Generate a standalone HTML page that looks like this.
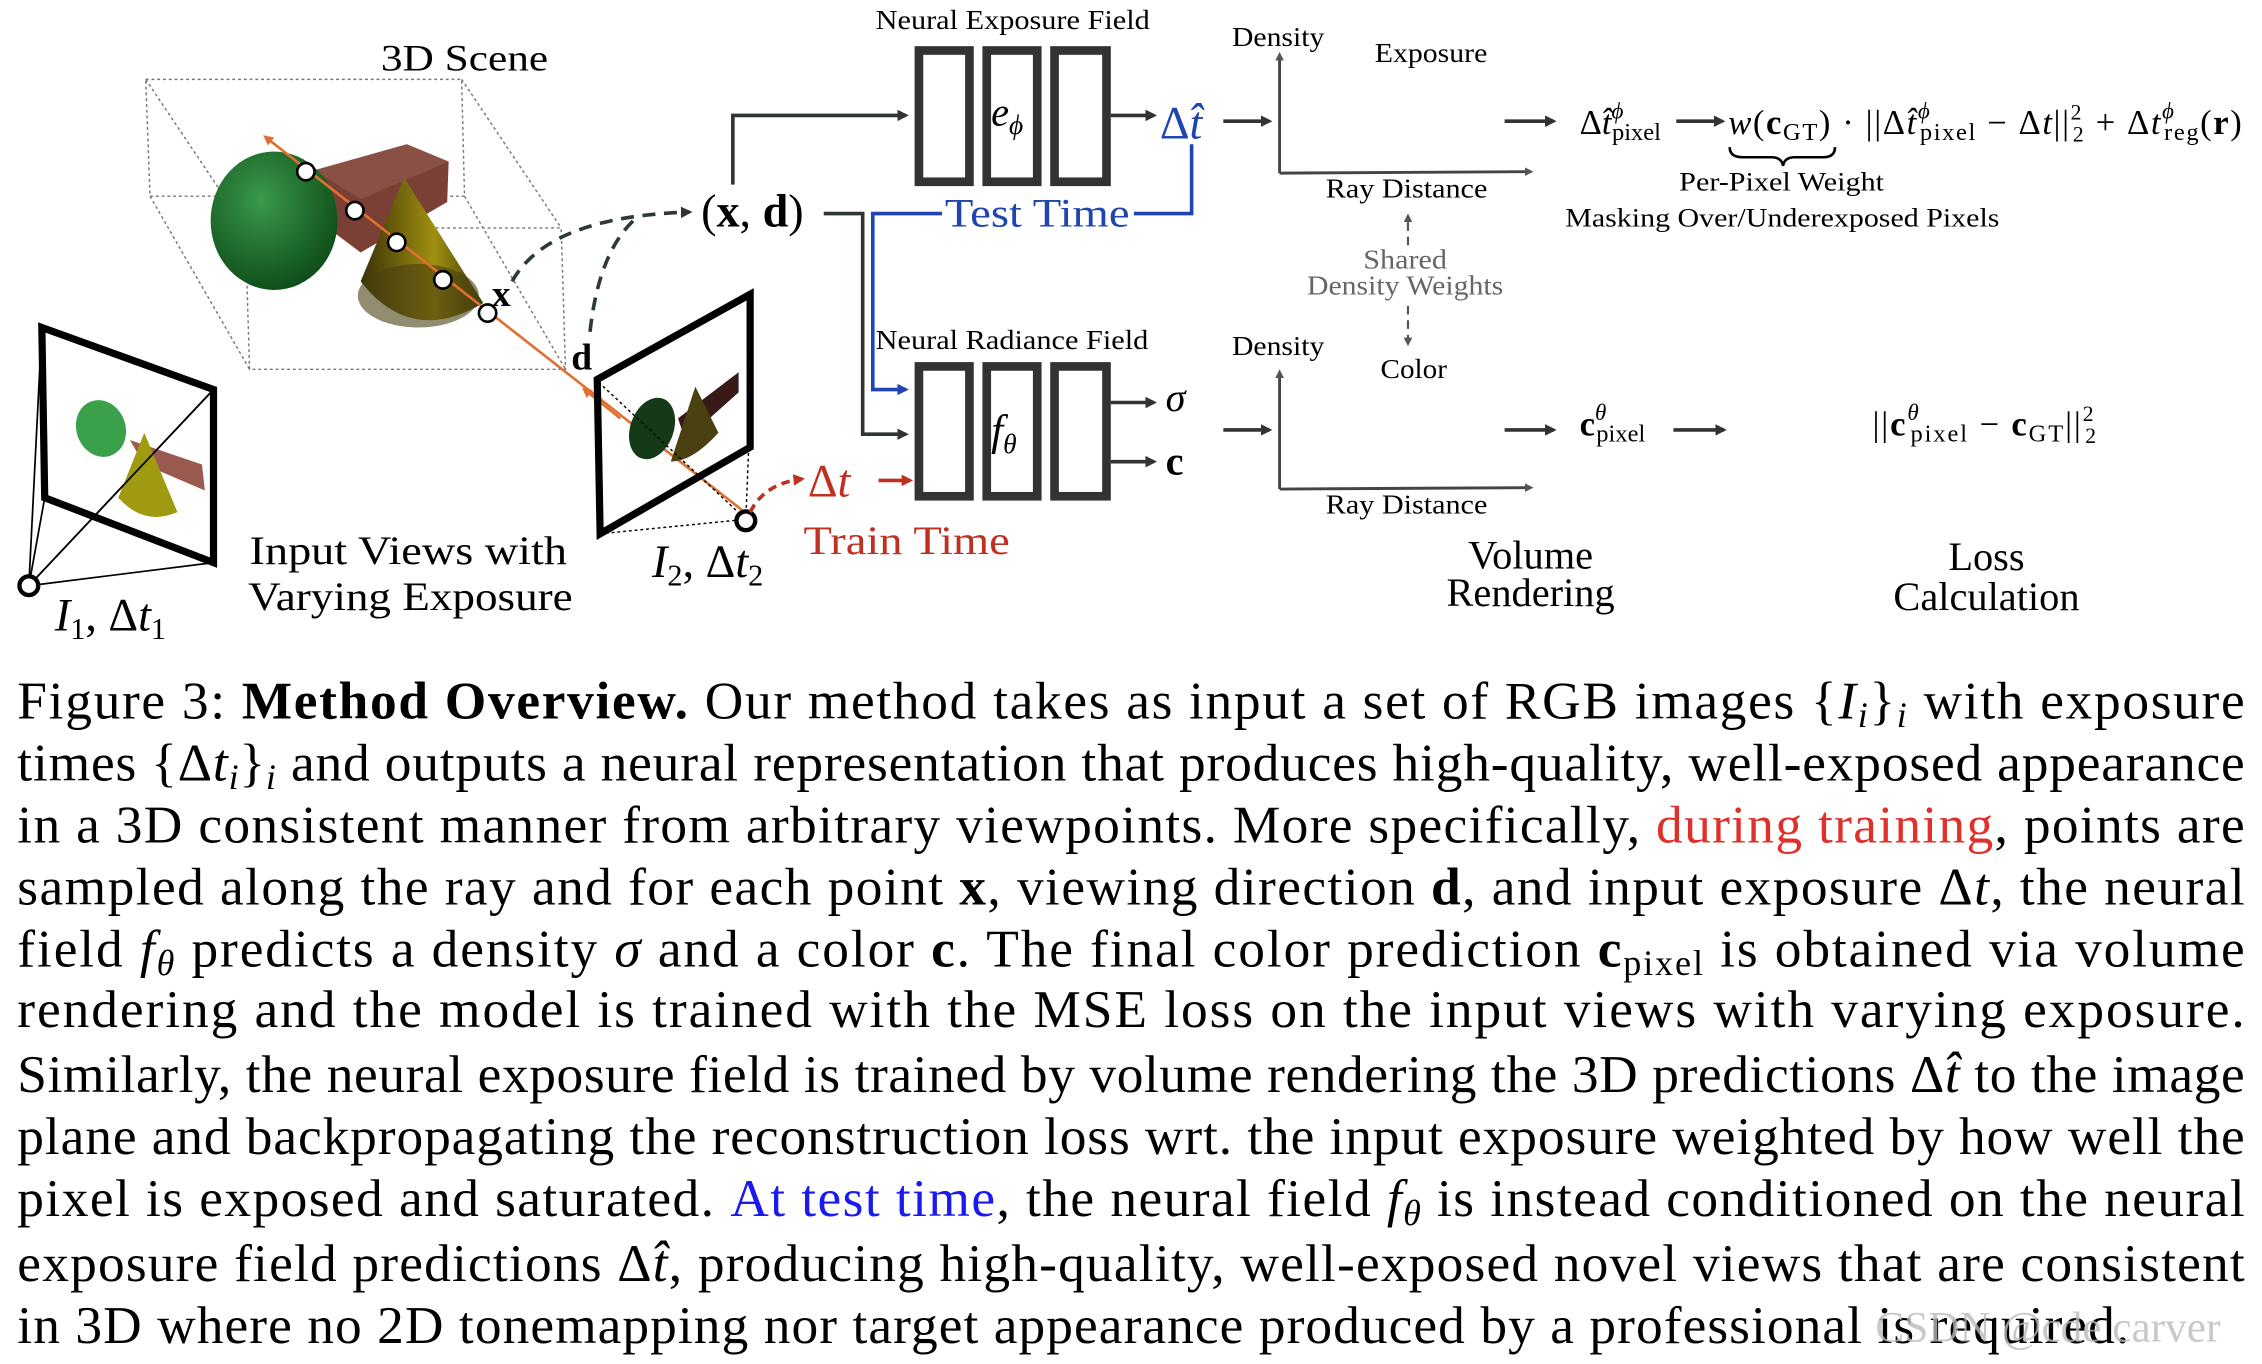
<!DOCTYPE html>
<html><head><meta charset="utf-8"><style>
html,body{margin:0;padding:0;background:#fff;}
svg{display:block;}
text{font-family:"Liberation Serif","DejaVu Serif",serif;}
</style></head><body>
<svg width="2262" height="1364" viewBox="0 0 1568 945.5" xmlns="http://www.w3.org/2000/svg">
<defs>
<marker id="ab" markerWidth="8" markerHeight="8" refX="6" refY="4" orient="auto" markerUnits="userSpaceOnUse"><path d="M0,0 L8,4 L0,8 z" fill="#333"/></marker>
<marker id="abl" markerWidth="8" markerHeight="8" refX="6" refY="4" orient="auto" markerUnits="userSpaceOnUse"><path d="M0,0 L8,4 L0,8 z" fill="#1f45b0"/></marker>
<marker id="ar" markerWidth="8" markerHeight="8" refX="6" refY="4" orient="auto" markerUnits="userSpaceOnUse"><path d="M0,0 L8,4 L0,8 z" fill="#c03020"/></marker>
<marker id="ao" markerWidth="7" markerHeight="7" refX="5" refY="3.5" orient="auto" markerUnits="userSpaceOnUse"><path d="M0,0 L7,3.5 L0,7 z" fill="#e07030"/></marker>
<marker id="ag" markerWidth="6" markerHeight="6" refX="4" refY="3" orient="auto" markerUnits="userSpaceOnUse"><path d="M0,0 L6,3 L0,6 z" fill="#555"/></marker>
<radialGradient id="gs" cx="0.4" cy="0.35" r="0.7"><stop offset="0" stop-color="#3a9a4a"/><stop offset="1" stop-color="#0d4a18"/></radialGradient>
<linearGradient id="yc" x1="0" y1="0" x2="1" y2="0"><stop offset="0" stop-color="#3a3208"/><stop offset="0.6" stop-color="#a09010"/><stop offset="1" stop-color="#403a08"/></linearGradient>
</defs>

<!-- 3D scene box -->
<g stroke="#777" stroke-width="1" stroke-dasharray="2,2" fill="none">
<path d="M101,55 L320,55 L322,136 L104,136 Z"/>
<path d="M170,158 L389,158 L392,256 L173,256 Z"/>
<path d="M101,55 L170,158 M320,55 L389,158 M322,136 L392,256 M104,136 L173,256"/>
</g>
<text x="264" y="49" font-size="26" textLength="116" lengthAdjust="spacingAndGlyphs">3D Scene</text>
<!-- objects -->
<polygon points="218,118 282,100 311,112 310,140 250,175 230,160" fill="#7a4035"/>
<polygon points="282,100 311,112 250,138 218,118" fill="#8a5045"/>
<ellipse cx="190" cy="153" rx="44" ry="48" fill="url(#gs)"/>
<path d="M280,123 L250,195 Q285,240 335,210 Z" fill="url(#yc)"/>
<ellipse cx="290" cy="205" rx="42" ry="22" fill="#4a4010" opacity="0.6"/>
<line x1="520" y1="358" x2="184" y2="95" stroke="#e07030" stroke-width="1.8" marker-end="url(#ao)"/>
<line x1="430" y1="290" x2="405" y2="270" stroke="#e07030" stroke-width="1.8" marker-end="url(#ao)"/>
<g fill="#fff" stroke="#000" stroke-width="1.8">
<circle cx="212" cy="119" r="6"/><circle cx="246" cy="146" r="6"/><circle cx="275" cy="168" r="6"/><circle cx="307" cy="194" r="6"/><circle cx="338" cy="217" r="6"/>
</g>
<text x="341" y="212" font-size="26" font-weight="bold">x</text>
<text x="396" y="256" font-size="26" font-weight="bold">d</text>
<path d="M355,195 Q380,150 478,147" stroke="#2d3a38" stroke-width="2.5" stroke-dasharray="9,6" fill="none" marker-end="url(#ab)"/>
<path d="M409,230 Q415,175 440,152" stroke="#2d3a38" stroke-width="2.5" stroke-dasharray="9,6" fill="none"/>

<!-- left image plane -->
<g stroke="#000" stroke-width="1.2" fill="none">
<line x1="20" y1="406" x2="29" y2="227"/><line x1="20" y1="406" x2="31" y2="345"/><line x1="20" y1="406" x2="148" y2="390"/><line x1="20" y1="406" x2="148" y2="270"/>
</g>
<ellipse cx="70" cy="297" rx="17" ry="20" fill="#3aa04a" transform="rotate(-20 70 297)"/>
<polygon points="90,305 140,322 142,340 100,322" fill="#9a5a50"/>
<path d="M100,300 L82,345 Q100,365 123,355 Z" fill="#a09a10"/>
<polygon points="29,227 148,270 148,390 31,345" fill="none" stroke="#000" stroke-width="5"/>
<line x1="20" y1="406" x2="148" y2="270" stroke="#000" stroke-width="1.2"/>
<circle cx="20" cy="406" r="6.5" fill="#fff" stroke="#000" stroke-width="3"/>
<text x="38" y="437" font-size="32" font-style="italic">I<tspan font-size="21" dy="6" font-style="normal">1</tspan><tspan dy="-6" font-style="normal">, Δ</tspan>t<tspan font-size="21" dy="6" font-style="normal">1</tspan></text>
<text x="173" y="391" font-size="28" textLength="220" lengthAdjust="spacingAndGlyphs">Input Views with</text>
<text x="172" y="423" font-size="28" textLength="225" lengthAdjust="spacingAndGlyphs">Varying Exposure</text>

<!-- right image plane -->
<ellipse cx="452" cy="297" rx="15" ry="22" fill="#143a18" transform="rotate(20 452 297)"/>
<polygon points="470,290 512,258 512,272 475,305" fill="#3a1a18"/>
<path d="M482,268 L465,320 Q480,320 498,300 Z" fill="#4a4010"/>
<g stroke="#000" stroke-width="1" stroke-dasharray="2,2" fill="none">
<line x1="416" y1="370" x2="517" y2="360"/><line x1="519" y1="310" x2="517" y2="360"/><line x1="415" y1="265" x2="517" y2="360"/>
</g>
<polygon points="414,263 520,204 520,310 416,370" fill="none" stroke="#000" stroke-width="5"/>
<circle cx="517" cy="361" r="6.5" fill="#fff" stroke="#000" stroke-width="3"/>
<text x="452" y="400" font-size="32" font-style="italic">I<tspan font-size="21" dy="6" font-style="normal">2</tspan><tspan dy="-6" font-style="normal">, Δ</tspan>t<tspan font-size="21" dy="6" font-style="normal">2</tspan></text>

<!-- train time -->
<path d="M520,355 Q530,335 556,332" stroke="#c03020" stroke-width="2.5" stroke-dasharray="6,4" fill="none" marker-end="url(#ar)"/>
<text x="560" y="344" font-size="32" fill="#c03020">Δ<tspan font-style="italic">t</tspan></text>
<line x1="609" y1="333" x2="631" y2="333" stroke="#c03020" stroke-width="2.5" marker-end="url(#ar)"/>
<text x="557" y="384" font-size="28" fill="#c03020" textLength="143" lengthAdjust="spacingAndGlyphs">Train Time</text>

<!-- (x,d) and connectors -->
<text x="486" y="157" font-size="32">(<tspan font-weight="bold">x</tspan>, <tspan font-weight="bold">d</tspan>)</text>
<g stroke="#2d3535" stroke-width="2.5" fill="none">
<path d="M508,128 L508,80 L628,80" marker-end="url(#ab)"/>
<path d="M571,148 L598,148 L598,301 L628,301" marker-end="url(#ab)"/>
</g>
<g stroke="#1f45b0" stroke-width="2.5" fill="none">
<path d="M653,148 L605,148 L605,270 L628,270" marker-end="url(#abl)"/>
<path d="M786,148 L826,148 L826,100"/>
</g>
<text x="655" y="157" font-size="28" fill="#1f45b0" textLength="128" lengthAdjust="spacingAndGlyphs">Test Time</text>

<!-- networks -->
<text x="607" y="20" font-size="19" textLength="190" lengthAdjust="spacingAndGlyphs">Neural Exposure Field</text>
<g fill="none" stroke="#333" stroke-width="6">
<rect x="637" y="35" width="35" height="91"/><rect x="684" y="35" width="35" height="91"/><rect x="731" y="35" width="36" height="91"/>
<rect x="637" y="254" width="35" height="90"/><rect x="684" y="254" width="35" height="90"/><rect x="731" y="254" width="36" height="90"/>
</g>
<text x="687" y="87" font-size="28" font-style="italic">e<tspan font-size="19" dy="6">ϕ</tspan></text>
<text x="687" y="308" font-size="30" font-style="italic">f<tspan font-size="19" dy="6">θ</tspan></text>
<text x="607" y="242" font-size="19" textLength="189" lengthAdjust="spacingAndGlyphs">Neural Radiance Field</text>
<g stroke="#333" stroke-width="2.5" fill="none">
<line x1="770" y1="80" x2="800" y2="80" marker-end="url(#ab)"/>
<line x1="848" y1="84" x2="880" y2="84" marker-end="url(#ab)"/>
<line x1="770" y1="279" x2="800" y2="279" marker-end="url(#ab)"/>
<line x1="770" y1="320" x2="800" y2="320" marker-end="url(#ab)"/>
<line x1="848" y1="298" x2="880" y2="298" marker-end="url(#ab)"/>
<line x1="1043" y1="84" x2="1077" y2="84" marker-end="url(#ab)"/>
<line x1="1043" y1="298" x2="1077" y2="298" marker-end="url(#ab)"/>
<line x1="1160" y1="298" x2="1195" y2="298" marker-end="url(#ab)"/>
<line x1="1162" y1="84" x2="1194" y2="84" marker-end="url(#ab)"/>
</g>
<text x="804" y="96" font-size="32" fill="#1f45b0">Δ<tspan font-style="italic">t̂</tspan></text>
<text x="808" y="285" font-size="28" font-style="italic">σ</text>
<text x="808" y="329" font-size="28" font-weight="bold">c</text>

<!-- plots -->
<g stroke="#444" stroke-width="2" fill="none">
<path d="M887,120 L887,38" marker-end="url(#ag)"/><path d="M887,120 L1061,119" marker-end="url(#ag)"/>
<path d="M887,339 L887,258" marker-end="url(#ag)"/><path d="M887,339 L1061,338" marker-end="url(#ag)"/>
</g>
<g font-size="19">
<text x="854" y="32" textLength="64" lengthAdjust="spacingAndGlyphs">Density</text><text x="953" y="43" textLength="78" lengthAdjust="spacingAndGlyphs">Exposure</text><text x="919" y="137" textLength="112" lengthAdjust="spacingAndGlyphs">Ray Distance</text>
<text x="854" y="246" textLength="64" lengthAdjust="spacingAndGlyphs">Density</text><text x="957" y="262" textLength="46" lengthAdjust="spacingAndGlyphs">Color</text><text x="919" y="356" textLength="112" lengthAdjust="spacingAndGlyphs">Ray Distance</text>
</g>
<g stroke="#555" stroke-width="1.5" stroke-dasharray="6,4" fill="none">
<path d="M976,170 L976,150" marker-end="url(#ag)"/><path d="M976,212 L976,238" marker-end="url(#ag)"/>
</g>
<text x="945" y="186" font-size="19" fill="#666" textLength="58" lengthAdjust="spacingAndGlyphs">Shared</text>
<text x="906" y="204" font-size="19" fill="#666" textLength="136" lengthAdjust="spacingAndGlyphs">Density Weights</text>

<!-- loss formulas -->
<text x="1095" y="93" font-size="24">Δ<tspan font-style="italic">t̂</tspan><tspan font-size="16" dy="-11" font-style="italic">ϕ</tspan><tspan font-size="17" dx="-8" dy="15">pixel</tspan></text>
<text x="1198" y="93" font-size="24" textLength="356" lengthAdjust="spacing"><tspan font-style="italic">w</tspan>(<tspan font-weight="bold">c</tspan><tspan font-size="17" dy="4">GT</tspan><tspan dy="-4">) · ||Δ</tspan><tspan font-style="italic">t̂</tspan><tspan font-size="16" dy="-11" font-style="italic">ϕ</tspan><tspan font-size="17" dx="-8" dy="15">pixel</tspan><tspan dy="-4"> − Δ</tspan><tspan font-style="italic">t</tspan>||<tspan font-size="15" dy="-10">2</tspan><tspan font-size="15" dx="-7" dy="15">2</tspan><tspan dy="-5"> + Δ</tspan><tspan font-style="italic">t</tspan><tspan font-size="16" dy="-11" font-style="italic">ϕ</tspan><tspan font-size="17" dx="-8" dy="15">reg</tspan><tspan dy="-4">(</tspan><tspan font-weight="bold">r</tspan>)</text>
<path d="M1199,102 Q1199,109 1208,109 L1228,109 Q1235,109 1236,115 Q1237,109 1244,109 L1264,109 Q1272,109 1272,102" stroke="#000" stroke-width="1.8" fill="none"/>
<text x="1164" y="132" font-size="18" textLength="142" lengthAdjust="spacingAndGlyphs">Per-Pixel Weight</text>
<text x="1085" y="157" font-size="18" textLength="301" lengthAdjust="spacingAndGlyphs">Masking Over/Underexposed Pixels</text>
<text x="1095" y="302" font-size="24"><tspan font-weight="bold">c</tspan><tspan font-size="16" dy="-11" font-style="italic">θ</tspan><tspan font-size="17" dx="-7" dy="15">pixel</tspan></text>
<text x="1298" y="302" font-size="24" textLength="155" lengthAdjust="spacing">||<tspan font-weight="bold">c</tspan><tspan font-size="16" dy="-11" font-style="italic">θ</tspan><tspan font-size="17" dx="-7" dy="15">pixel</tspan><tspan dy="-4"> − </tspan><tspan font-weight="bold">c</tspan><tspan font-size="17" dy="4">GT</tspan><tspan dy="-4">||</tspan><tspan font-size="15" dy="-10">2</tspan><tspan font-size="15" dx="-7" dy="15">2</tspan></text>
<g font-size="28" text-anchor="middle">
<text x="1061" y="394">Volume</text><text x="1061" y="420">Rendering</text>
<text x="1377" y="395">Loss</text><text x="1377" y="423">Calculation</text>
</g>

<!-- caption -->
<g font-size="37">
<text x="12" y="498" textLength="1544" lengthAdjust="spacing">Figure 3: <tspan font-weight="bold">Method Overview.</tspan> Our method takes as input a set of RGB images {<tspan font-style="italic">I</tspan><tspan font-size="25" font-style="italic" dy="6">i</tspan><tspan dy="-6">}</tspan><tspan font-size="25" font-style="italic" dy="6">i</tspan><tspan dy="-6"> with exposure</tspan></text>
<text x="12" y="541" textLength="1544" lengthAdjust="spacing">times {Δ<tspan font-style="italic">t</tspan><tspan font-size="25" font-style="italic" dy="6">i</tspan><tspan dy="-6">}</tspan><tspan font-size="25" font-style="italic" dy="6">i</tspan><tspan dy="-6"> and outputs a neural representation that produces high-quality, well-exposed appearance</tspan></text>
<text x="12" y="584" textLength="1544" lengthAdjust="spacing">in a 3D consistent manner from arbitrary viewpoints. More specifically, <tspan fill="#e0302a">during training</tspan>, points are</text>
<text x="12" y="627" textLength="1544" lengthAdjust="spacing">sampled along the ray and for each point <tspan font-weight="bold">x</tspan>, viewing direction <tspan font-weight="bold">d</tspan>, and input exposure Δ<tspan font-style="italic">t</tspan>, the neural</text>
<text x="12" y="670" textLength="1544" lengthAdjust="spacing">field <tspan font-style="italic">f</tspan><tspan font-size="25" font-style="italic" dy="6">θ</tspan><tspan dy="-6"> predicts a density </tspan><tspan font-style="italic">σ</tspan> and a color <tspan font-weight="bold">c</tspan>. The final color prediction <tspan font-weight="bold">c</tspan><tspan font-size="25" dy="6">pixel</tspan><tspan dy="-6"> is obtained via volume</tspan></text>
<text x="12" y="712" textLength="1544" lengthAdjust="spacing">rendering and the model is trained with the MSE loss on the input views with varying exposure.</text>
<text x="12" y="757" textLength="1544" lengthAdjust="spacing">Similarly, the neural exposure field is trained by volume rendering the 3D predictions Δ<tspan font-style="italic">t̂</tspan> to the image</text>
<text x="12" y="800" textLength="1544" lengthAdjust="spacing">plane and backpropagating the reconstruction loss wrt. the input exposure weighted by how well the</text>
<text x="12" y="843" textLength="1544" lengthAdjust="spacing">pixel is exposed and saturated. <tspan fill="#1a1aee">At test time</tspan>, the neural field <tspan font-style="italic">f</tspan><tspan font-size="25" font-style="italic" dy="6">θ</tspan><tspan dy="-6"> is instead conditioned on the neural</tspan></text>
<text x="12" y="888" textLength="1544" lengthAdjust="spacing">exposure field predictions Δ<tspan font-style="italic">t̂</tspan>, producing high-quality, well-exposed novel views that are consistent</text>
<text x="12" y="931" textLength="1464" lengthAdjust="spacing">in 3D where no 2D tonemapping nor target appearance produced by a professional is required.</text>
</g>
<text x="1300" y="930" font-size="30" fill="#bbb" font-family="Liberation Sans, sans-serif" opacity="0.8">CSDN @cde carver</text>
</svg>
</body></html>
